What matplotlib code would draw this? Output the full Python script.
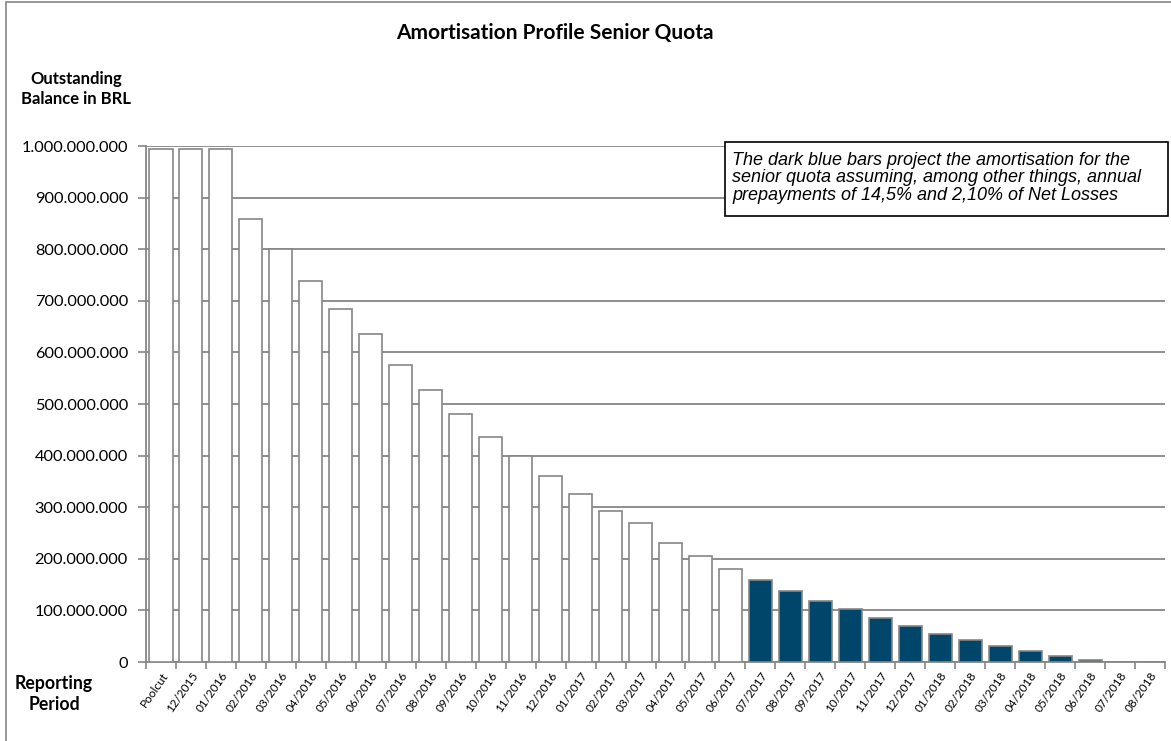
import matplotlib.pyplot as plt
from matplotlib.patches import Rectangle
from matplotlib.ticker import FuncFormatter

plt.rcParams['font.family'] = ['Lato', 'DejaVu Sans']

# reporting periods on the x axis
periods = ["Poolcut", "12/2015",
           "01/2016", "02/2016", "03/2016", "04/2016", "05/2016", "06/2016",
           "07/2016", "08/2016", "09/2016", "10/2016", "11/2016", "12/2016",
           "01/2017", "02/2017", "03/2017", "04/2017", "05/2017", "06/2017",
           "07/2017", "08/2017", "09/2017", "10/2017", "11/2017", "12/2017",
           "01/2018", "02/2018", "03/2018", "04/2018", "05/2018", "06/2018",
           "07/2018", "08/2018"]

# outstanding balance, millions of BRL
balance_mn = [994, 994, 994, 858, 800, 738, 684, 635, 576, 527, 480, 436,
              400, 361, 325, 292, 270, 231, 206, 180, 158, 138, 119, 103,
              85, 70, 55, 42, 31, 21, 12, 4, 0, 0]

# first projected period (dark blue bars)
first_projected = "07/2017"

note = ("The dark blue bars project the amortisation for the\n"
        "senior quota assuming, among other things, annual\n"
        "prepayments of 14,5% and 2,10% of Net Losses")

W, H = 1171, 741
fig = plt.figure(figsize=(W / 100, H / 100), dpi=100)
ax = fig.add_axes([146 / W, 1 - 662 / H, (1165 - 146) / W, (662 - 146) / H])

grey = "#868686"
navy = "#00466A"
split = periods.index(first_projected)
x = list(range(len(periods)))
vals = [v * 1e6 for v in balance_mn]
colors = ["white" if i < split else navy for i in x]

ax.bar(x, vals, width=0.77, color=colors, edgecolor=grey, linewidth=1.2, zorder=3)

ax.set_xlim(-0.5, len(periods) - 0.5)
ax.set_ylim(0, 1e9)
ax.set_yticks([i * 1e8 for i in range(11)])
ax.yaxis.set_major_formatter(FuncFormatter(lambda v, p: f"{int(v):,}".replace(",", ".")))
ax.grid(axis="y", color=grey, linewidth=1.3, zorder=0)

ax.set_xticks(x)
ax.set_xticklabels(periods, rotation=55, ha="right", va="top", fontsize=8.5,
                   rotation_mode="anchor")
ax.set_xticks([i - 0.5 for i in range(len(periods) + 1)], minor=True)
ax.tick_params(axis="x", which="major", length=0, pad=6)
ax.tick_params(axis="x", which="minor", length=5, color=grey, width=1.2)
ax.tick_params(axis="y", length=6, color=grey, width=1.2, labelsize=11.8, pad=7)

for s in ["top", "right"]:
    ax.spines[s].set_visible(False)
for s in ["left", "bottom"]:
    ax.spines[s].set_color(grey)
    ax.spines[s].set_linewidth(1.3)

# outer chart frame
fig.patches.append(Rectangle((6 / W, -0.05), 1.1, 1 - 2 / H + 0.05,
                             transform=fig.transFigure, fill=False,
                             edgecolor=grey, linewidth=1.2))

fig.text(555 / W, 1 - 33 / H, "Amortisation Profile Senior Quota",
         ha="center", va="center", fontsize=15, fontweight="bold")
fig.text(76 / W, 1 - 89 / H, "Outstanding\nBalance in BRL", ha="center",
         va="center", fontsize=12, fontweight="bold", linespacing=1.3)
fig.text(54 / W, 1 - 694 / H, "Reporting\nPeriod", ha="center", va="center",
         fontsize=12.7, fontweight="bold", linespacing=1.25)

# note box
fig.patches.append(Rectangle((725 / W, 1 - 216 / H), (1168 - 725) / W, 74 / H,
                             transform=fig.transFigure, facecolor="white",
                             edgecolor="black", linewidth=1.2, zorder=5))
fig.text(732 / W, 1 - 178 / H, note, ha="left", va="center", fontsize=13,
         style="italic", family=["Liberation Sans", "DejaVu Sans"],
         linespacing=1.07, zorder=6)

fig.savefig("out.png", dpi=100)
